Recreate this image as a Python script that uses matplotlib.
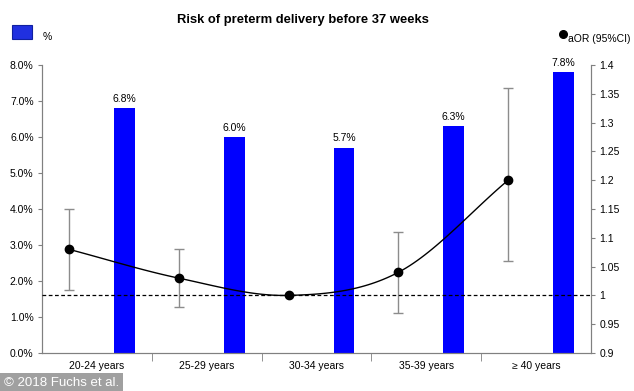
import matplotlib.pyplot as plt
import numpy as np

plt.rcParams['font.family'] = ['Liberation Sans', 'DejaVu Sans']

groups = ['20-24 years', '25-29 years', '30-34 years', '35-39 years', '\u2265 40 years']
risk_pct = [6.8, 6.0, 5.7, 6.3, 7.8]
aor = [1.08, 1.03, 1.00, 1.04, 1.20]
ci_low = [1.01, 0.98, 1.00, 0.97, 1.06]
ci_high = [1.15, 1.08, 1.00, 1.11, 1.36]


def smooth(xs, ys, n=30):
    # catmull-rom through the points, like the smoothed excel line
    xs = np.asarray(xs, float)
    ys = np.asarray(ys, float)
    px = np.concatenate([[2 * xs[0] - xs[1]], xs, [2 * xs[-1] - xs[-2]]])
    py = np.concatenate([[2 * ys[0] - ys[1]], ys, [2 * ys[-1] - ys[-2]]])
    outx, outy = [], []
    t = np.linspace(0, 1, n)
    for i in range(1, len(px) - 2):
        for p, out in ((px, outx), (py, outy)):
            p0, p1, p2, p3 = p[i - 1], p[i], p[i + 1], p[i + 2]
            out.extend(0.5 * (2 * p1 + (-p0 + p2) * t
                              + (2 * p0 - 5 * p1 + 4 * p2 - p3) * t ** 2
                              + (-p0 + 3 * p1 - 3 * p2 + p3) * t ** 3))
    return outx, outy


fig = plt.figure(figsize=(6.34, 3.91), dpi=100)
ax = fig.add_axes([42 / 634, 1 - 353 / 391, (591 - 42) / 634, (353 - 65) / 391])
x = np.arange(len(groups))

bars = ax.bar(x + 0.25, risk_pct, width=0.19, color='#0000ff', zorder=2)
for xi, v in zip(x, risk_pct):
    ax.text(xi + 0.25, v + 0.12, f'{v:.1f}%', ha='center', va='bottom', fontsize=7.5)

ax.set_xlim(-0.5, 4.5)
ax.set_ylim(0, 8)
ax.set_yticks(np.arange(0, 9))
ax.set_yticklabels([f'{v:.1f}%' for v in range(9)], fontsize=7.5)
ax.set_xticks(x)
ax.set_xticklabels(groups, fontsize=7.5)
ax.tick_params(axis='x', length=0, pad=6)
ax.set_xticks(x[:-1] + 0.5, minor=True)
ax.tick_params(axis='x', which='minor', length=6, color='#808080')
ax.tick_params(axis='y', length=3, color='#808080', pad=3)
ax.spines['top'].set_visible(False)
for s in ('left', 'right', 'bottom'):
    ax.spines[s].set_color('#808080')

ax2 = ax.twinx()
ax2.set_ylim(0.9, 1.4)
ax2.set_yticks([0.9, 0.95, 1.0, 1.05, 1.1, 1.15, 1.2, 1.25, 1.3, 1.35, 1.4])
ax2.set_yticklabels(['0.9', '0.95', '1', '1.05', '1.1', '1.15', '1.2', '1.25', '1.3', '1.35', '1.4'],
                    fontsize=7.5)
ax2.tick_params(axis='y', length=3, color='#808080', pad=3)
ax2.spines['top'].set_visible(False)
for s in ('left', 'right', 'bottom'):
    ax2.spines[s].set_color('#808080')

px = x - 0.255
yerr = [np.array(aor) - np.array(ci_low), np.array(ci_high) - np.array(aor)]
ax2.errorbar(px, aor, yerr=yerr, fmt='none', ecolor='#8c8c8c', elinewidth=1,
             capsize=3.5, capthick=1, zorder=3)
sx, sy = smooth(px, aor)
ax2.plot(sx, sy, color='black', lw=1, zorder=4)
ax2.plot(px, aor, 'o', color='black', ms=6, zorder=5)
ax2.axhline(1.0, color='black', lw=0.9, ls=(0, (3, 2)), zorder=4)

fig.text(303 / 634, 1 - 20 / 391, 'Risk of preterm delivery before 37 weeks',
         ha='center', va='center', fontsize=9.4, fontweight='bold')
fig.patches.append(plt.Rectangle((12 / 634, 1 - 39 / 391), 20 / 634, 14 / 391,
                                 transform=fig.transFigure, facecolor='#2030e0',
                                 edgecolor='#1020a0', lw=0.8))
fig.text(43 / 634, 1 - 37 / 391, '%', ha='left', va='center', fontsize=7.5)
fig.lines.append(plt.Line2D([563 / 634], [1 - 34 / 391], marker='o', color='black',
                            ms=5.5, transform=fig.transFigure))
fig.text(568 / 634, 1 - 39 / 391, 'aOR (95%CI)', ha='left', va='center', fontsize=7.5)
fig.text(4 / 634, 1 - 383 / 391, '\u00a9 2018 Fuchs et al.', ha='left', va='center',
         fontsize=9.5, color='white',
         bbox=dict(boxstyle='square,pad=0.3', facecolor='#a0a0a0', edgecolor='none'))

fig.savefig('out.png', dpi=100)
